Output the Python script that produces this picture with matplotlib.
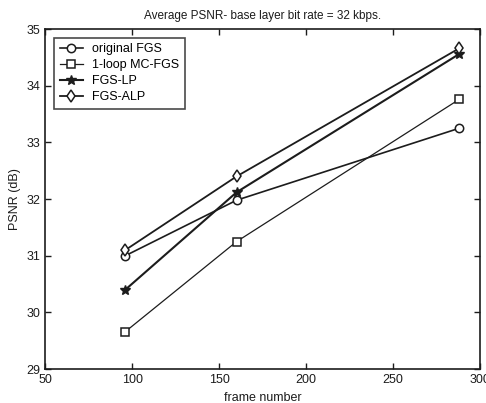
import matplotlib
matplotlib.use('Agg')
import matplotlib.pyplot as plt

# frame numbers and average PSNR (dB) per scheme
frames = [96, 160, 288]
psnr_orig = [31.00, 31.98, 33.25]
psnr_mc = [29.66, 31.25, 33.76]
psnr_lp = [30.40, 32.12, 34.56]
psnr_alp = [31.10, 32.40, 34.66]

labels = ['original FGS', '1-loop MC-FGS', 'FGS-LP', 'FGS-ALP']
x_ticks = [50, 100, 150, 200, 250, 300]
y_ticks = [29, 30, 31, 32, 33, 34, 35]

plt.rcParams['font.family'] = ['Liberation Sans', 'DejaVu Sans']

fig = plt.figure(figsize=(4.86, 4.03), dpi=100)
ax = fig.add_axes([0.093, 0.084, 0.895, 0.844])

ink = '#1c1c1c'
ax.plot(frames, psnr_orig, '-o', color=ink, lw=1.2, ms=6, mfc='white', mew=1.1, label=labels[0])
ax.plot(frames, psnr_mc, '-s', color=ink, lw=0.9, ms=6, mfc='white', mew=1.1, label=labels[1])
ax.plot(frames, psnr_lp, '-*', color=ink, lw=1.5, ms=7, mew=1.0, label=labels[2])
ax.plot(frames, psnr_alp, '-d', color=ink, lw=1.3, ms=6, mfc='white', mew=1.1, label=labels[3])

ax.set_xlim(50, 300)
ax.set_ylim(29, 35)
ax.set_xticks(x_ticks)
ax.set_yticks(y_ticks)
ax.tick_params(direction='in', top=True, right=True, labelsize=9, length=4, width=1, colors=ink)
for s in ax.spines.values():
    s.set_linewidth(1.2)
    s.set_color(ink)

ax.set_xlabel('frame number', fontsize=9, labelpad=4, color=ink)
ax.set_ylabel('PSNR (dB)', fontsize=9, labelpad=4, color=ink)
ax.set_title('Average PSNR- base layer bit rate = 32 kbps.', fontsize=8.5, pad=7, color=ink)

leg = ax.legend(loc='upper left', fontsize=9, frameon=True, fancybox=False,
                handlelength=1.9, handletextpad=0.7, borderpad=0.45, labelspacing=0.32,
                borderaxespad=0.7)
leg.get_frame().set_edgecolor(ink)
leg.get_frame().set_linewidth(1.2)

plt.savefig('out.png', dpi=100, facecolor='white')
plt.close()
